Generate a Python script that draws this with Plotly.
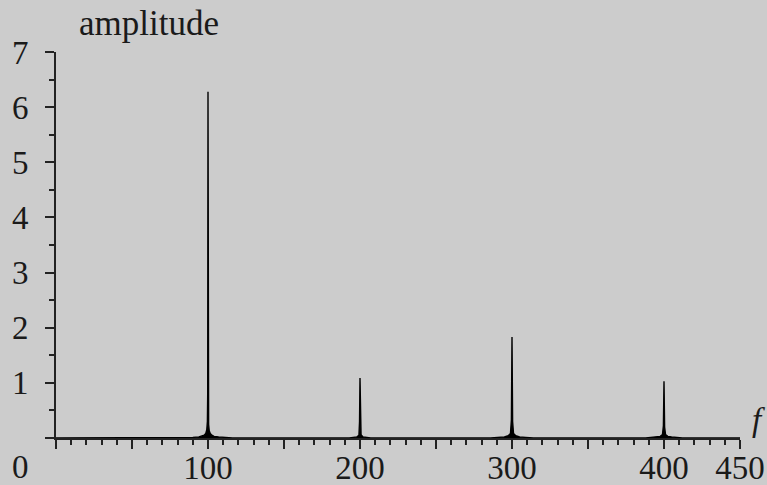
import plotly.graph_objects as go

# Spectrum (frequency f, amplitude)
f_peak100 = [0, 85, 90, 94, 96, 97.5, 98.5, 99.2, 99.6, 99.8, 100, 100.2, 100.4, 100.8, 101.5, 102.5, 104, 107, 111, 116]
a_peak100 = [0, 0, 0.01, 0.02, 0.03, 0.05, 0.08, 0.15, 0.3, 0.8, 6.28, 0.6, 0.25, 0.13, 0.08, 0.05, 0.03, 0.02, 0.01, 0]
f_peak200 = [193, 196, 198, 199.3, 199.7, 200, 200.3, 200.7, 202, 204, 207]
a_peak200 = [0, 0.01, 0.02, 0.05, 0.3, 1.09, 0.25, 0.06, 0.02, 0.01, 0]
f_peak300 = [286, 291, 295, 297.5, 299, 299.6, 300, 300.4, 301, 302.5, 305, 309, 314]
a_peak300 = [0, 0.01, 0.02, 0.04, 0.08, 0.33, 1.83, 0.3, 0.08, 0.04, 0.02, 0.01, 0]
f_peak400 = [388, 392, 395, 397.5, 399, 399.6, 400, 400.4, 401, 402.5, 405, 408, 412, 450]
a_peak400 = [0, 0.01, 0.02, 0.03, 0.06, 0.22, 1.03, 0.2, 0.06, 0.03, 0.02, 0.01, 0, 0]

freq = f_peak100 + f_peak200 + f_peak300 + f_peak400
amp = a_peak100 + a_peak200 + a_peak300 + a_peak400

x_tickvals = [0, 50, 100, 150, 200, 250, 300, 350, 400, 450]
x_ticktext = [" ", " ", "100", " ", "200", " ", "300", " ", "400", "450"]
y_tickvals = [0, 1, 2, 3, 4, 5, 6, 7]
y_ticktext = [" ", "1", "2", "3", "4", "5", "6", "7"]

FONT = "Liberation Serif"
FS = 33
TXT = "#1a1a1a"
BG = "#cccccc"

fig = go.Figure()
fig.add_trace(go.Scatter(x=freq, y=amp, mode="lines",
                         line=dict(color="black", width=1.4),
                         fill="tozeroy", fillcolor="black",
                         hoverinfo="skip", showlegend=False))

L, R, T, B = 56, 27, 52, 47
W, H = 767, 485
pw, ph = W - L - R, H - T - B

def px(x):
    return (x - L) / pw

def py(y):
    return (H - B - y) / ph

def label(text, x, y, size=FS):
    return dict(text=text, x=px(x), y=py(y), xref="paper", yref="paper",
                xanchor="center", yanchor="middle", showarrow=False,
                font=dict(family=FONT, size=size, color=TXT))

fig.update_layout(
    width=W, height=H,
    margin=dict(l=L, r=R, t=T, b=B, autoexpand=False),
    paper_bgcolor=BG, plot_bgcolor=BG,
    font=dict(family=FONT, size=FS, color=TXT),
    xaxis=dict(range=[0, 450], showgrid=False, zeroline=False, automargin=False,
               showline=True, linecolor="#222", linewidth=2,
               tickmode="array", tickvals=x_tickvals, ticktext=x_ticktext,
               ticks="outside", ticklen=9, tickwidth=2, tickcolor="#222",
               ticklabelstandoff=-10,
               minor=dict(dtick=10, ticks="outside", ticklen=5, tickwidth=1.5, tickcolor="#222")),
    yaxis=dict(range=[0, 7], showgrid=False, zeroline=False, automargin=False,
               showline=True, linecolor="#222", linewidth=2,
               tickmode="array", tickvals=y_tickvals, ticktext=y_ticktext,
               ticks="outside", ticklen=9, tickwidth=2, tickcolor="#222",
               ticklabelstandoff=10,
               minor=dict(dtick=0.5, ticks="outside", ticklen=5, tickwidth=1.5, tickcolor="#222")),
    annotations=[
        label("amplitude", 149, 24, 35),
        label("0", 20, 467),
        label("<i>f</i>", 758, 420),
    ],
)

fig.write_html("out.html", config={"displayModeBar": False},
               post_script="document.body.style.margin='0';document.body.style.background='#cccccc';")
